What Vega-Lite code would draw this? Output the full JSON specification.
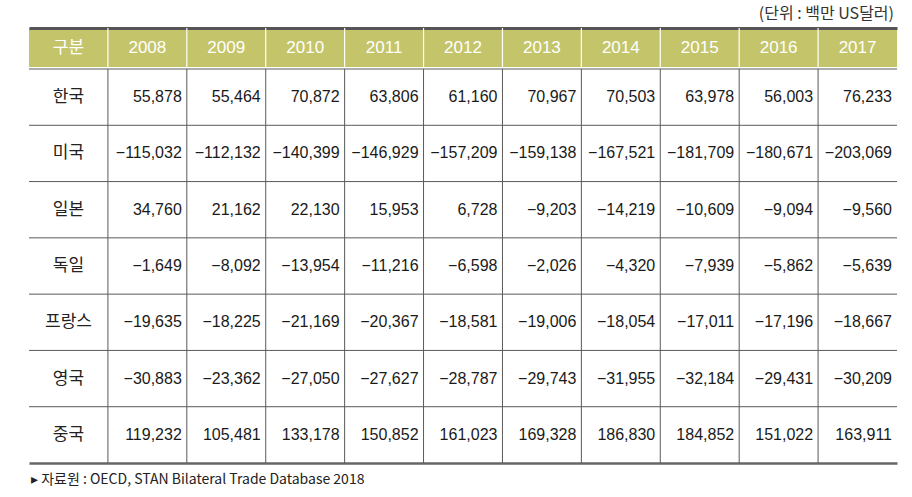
{
  "$schema": "https://vega.github.io/schema/vega-lite/v6.json",
  "background": "white",
  "padding": {"left": 28, "top": 6, "right": 10, "bottom": 0},
  "spacing": 0,
  "title": {"text": "(단위 : 백만 US달러)", "anchor": "end", "frame": "group", "fontSize": 16, "font": "Noto Sans CJK KR", "fontWeight": "normal", "color": "#333", "offset": 5, "dx": -3},
  "config": {"view": {"stroke": null}},
  "datasets": {
    "cols": [{"col": "구분"}, {"col": "2008"}, {"col": "2009"}, {"col": "2010"}, {"col": "2011"}, {"col": "2012"}, {"col": "2013"}, {"col": "2014"}, {"col": "2015"}, {"col": "2016"}, {"col": "2017"}],
    "rows": [{"row": "한국"}, {"row": "미국"}, {"row": "일본"}, {"row": "독일"}, {"row": "프랑스"}, {"row": "영국"}, {"row": "중국"}],
    "note": [{"col": "구분", "note": "▸ 자료원 : OECD, STAN Bilateral Trade Database 2018"}],
    "cells": [
      {"row": "한국", "col": "2008", "value": 55878}, {"row": "한국", "col": "2009", "value": 55464}, {"row": "한국", "col": "2010", "value": 70872}, {"row": "한국", "col": "2011", "value": 63806}, {"row": "한국", "col": "2012", "value": 61160}, {"row": "한국", "col": "2013", "value": 70967}, {"row": "한국", "col": "2014", "value": 70503}, {"row": "한국", "col": "2015", "value": 63978}, {"row": "한국", "col": "2016", "value": 56003}, {"row": "한국", "col": "2017", "value": 76233},
      {"row": "미국", "col": "2008", "value": -115032}, {"row": "미국", "col": "2009", "value": -112132}, {"row": "미국", "col": "2010", "value": -140399}, {"row": "미국", "col": "2011", "value": -146929}, {"row": "미국", "col": "2012", "value": -157209}, {"row": "미국", "col": "2013", "value": -159138}, {"row": "미국", "col": "2014", "value": -167521}, {"row": "미국", "col": "2015", "value": -181709}, {"row": "미국", "col": "2016", "value": -180671}, {"row": "미국", "col": "2017", "value": -203069},
      {"row": "일본", "col": "2008", "value": 34760}, {"row": "일본", "col": "2009", "value": 21162}, {"row": "일본", "col": "2010", "value": 22130}, {"row": "일본", "col": "2011", "value": 15953}, {"row": "일본", "col": "2012", "value": 6728}, {"row": "일본", "col": "2013", "value": -9203}, {"row": "일본", "col": "2014", "value": -14219}, {"row": "일본", "col": "2015", "value": -10609}, {"row": "일본", "col": "2016", "value": -9094}, {"row": "일본", "col": "2017", "value": -9560},
      {"row": "독일", "col": "2008", "value": -1649}, {"row": "독일", "col": "2009", "value": -8092}, {"row": "독일", "col": "2010", "value": -13954}, {"row": "독일", "col": "2011", "value": -11216}, {"row": "독일", "col": "2012", "value": -6598}, {"row": "독일", "col": "2013", "value": -2026}, {"row": "독일", "col": "2014", "value": -4320}, {"row": "독일", "col": "2015", "value": -7939}, {"row": "독일", "col": "2016", "value": -5862}, {"row": "독일", "col": "2017", "value": -5639},
      {"row": "프랑스", "col": "2008", "value": -19635}, {"row": "프랑스", "col": "2009", "value": -18225}, {"row": "프랑스", "col": "2010", "value": -21169}, {"row": "프랑스", "col": "2011", "value": -20367}, {"row": "프랑스", "col": "2012", "value": -18581}, {"row": "프랑스", "col": "2013", "value": -19006}, {"row": "프랑스", "col": "2014", "value": -18054}, {"row": "프랑스", "col": "2015", "value": -17011}, {"row": "프랑스", "col": "2016", "value": -17196}, {"row": "프랑스", "col": "2017", "value": -18667},
      {"row": "영국", "col": "2008", "value": -30883}, {"row": "영국", "col": "2009", "value": -23362}, {"row": "영국", "col": "2010", "value": -27050}, {"row": "영국", "col": "2011", "value": -27627}, {"row": "영국", "col": "2012", "value": -28787}, {"row": "영국", "col": "2013", "value": -29743}, {"row": "영국", "col": "2014", "value": -31955}, {"row": "영국", "col": "2015", "value": -32184}, {"row": "영국", "col": "2016", "value": -29431}, {"row": "영국", "col": "2017", "value": -30209},
      {"row": "중국", "col": "2008", "value": 119232}, {"row": "중국", "col": "2009", "value": 105481}, {"row": "중국", "col": "2010", "value": 133178}, {"row": "중국", "col": "2011", "value": 150852}, {"row": "중국", "col": "2012", "value": 161023}, {"row": "중국", "col": "2013", "value": 169328}, {"row": "중국", "col": "2014", "value": 186830}, {"row": "중국", "col": "2015", "value": 184852}, {"row": "중국", "col": "2016", "value": 151022}, {"row": "중국", "col": "2017", "value": 163911}
    ]
  },
  "vconcat": [
    {
      "width": 868,
      "height": 39,
      "view": {"fill": "#c4c56a", "stroke": null},
      "data": {"name": "cols"},
      "layer": [
        {
          "transform": [{"filter": "datum.col !== '구분'"}],
          "mark": {"type": "rule", "color": "white", "strokeWidth": 1.2},
          "encoding": {
            "x": {"field": "col", "type": "nominal", "bandPosition": 0,
              "scale": {"type": "band", "domain": ["구분", "2008", "2009", "2010", "2011", "2012", "2013", "2014", "2015", "2016", "2017"], "paddingInner": 0, "paddingOuter": 0},
              "axis": {"orient": "top", "title": null, "labels": false, "ticks": false, "grid": false, "domain": true, "domainColor": "#555", "domainWidth": 3}}
          }
        },
        {
          "mark": {"type": "text", "color": "white", "fontSize": 17, "font": "Liberation Sans, Noto Sans CJK KR", "baseline": "middle"},
          "encoding": {
            "x": {"field": "col", "type": "nominal", "bandPosition": 0.5},
            "text": {"field": "col"}
          }
        }
      ]
    },
    {
      "width": 868,
      "height": 394,
      "layer": [
        {
          "data": {"name": "cols"},
          "transform": [{"filter": "datum.col !== '구분'"}],
          "mark": {"type": "rule", "color": "#5a5a5a", "strokeWidth": 1},
          "encoding": {
            "x": {"field": "col", "type": "nominal", "bandPosition": 0,
              "scale": {"type": "band", "domain": ["구분", "2008", "2009", "2010", "2011", "2012", "2013", "2014", "2015", "2016", "2017"], "paddingInner": 0, "paddingOuter": 0},
              "axis": {"orient": "bottom", "title": null, "labels": false, "ticks": false, "grid": false, "domain": true, "domainColor": "#666", "domainWidth": 2.5}}
          }
        },
        {
          "data": {"name": "rows"},
          "mark": {"type": "rule", "color": "#5a5a5a", "strokeWidth": 1},
          "encoding": {
            "y": {"field": "row", "type": "nominal", "bandPosition": 0,
              "scale": {"type": "band", "domain": ["한국", "미국", "일본", "독일", "프랑스", "영국", "중국"], "paddingInner": 0, "paddingOuter": 0},
              "axis": null}
          }
        },
        {
          "data": {"name": "rows"},
          "mark": {"type": "text", "color": "#222", "fontSize": 17, "font": "Noto Sans CJK KR", "baseline": "middle"},
          "encoding": {
            "x": {"datum": "구분", "type": "nominal"},
            "y": {"field": "row", "type": "nominal", "bandPosition": 0.5},
            "text": {"field": "row"}
          }
        },
        {
          "data": {"name": "cells"},
          "mark": {"type": "text", "color": "#1a1a1a", "fontSize": 16, "font": "Liberation Sans", "align": "right", "baseline": "middle", "dx": -5},
          "encoding": {
            "x": {"field": "col", "type": "nominal", "bandPosition": 1},
            "y": {"field": "row", "type": "nominal", "bandPosition": 0.5},
            "text": {"field": "value", "type": "quantitative", "format": ",d"}
          }
        }
      ]
    },
    {
      "width": 868,
      "height": 32,
      "data": {"name": "note"},
      "mark": {"type": "text", "color": "#222", "fontSize": 14, "font": "Noto Sans CJK KR", "align": "left", "baseline": "middle", "dx": 2},
      "encoding": {
        "x": {"field": "col", "type": "nominal", "bandPosition": 0,
          "scale": {"type": "band", "domain": ["구분", "2008", "2009", "2010", "2011", "2012", "2013", "2014", "2015", "2016", "2017"], "paddingInner": 0, "paddingOuter": 0},
          "axis": null},
        "text": {"field": "note"}
      }
    }
  ]
}
